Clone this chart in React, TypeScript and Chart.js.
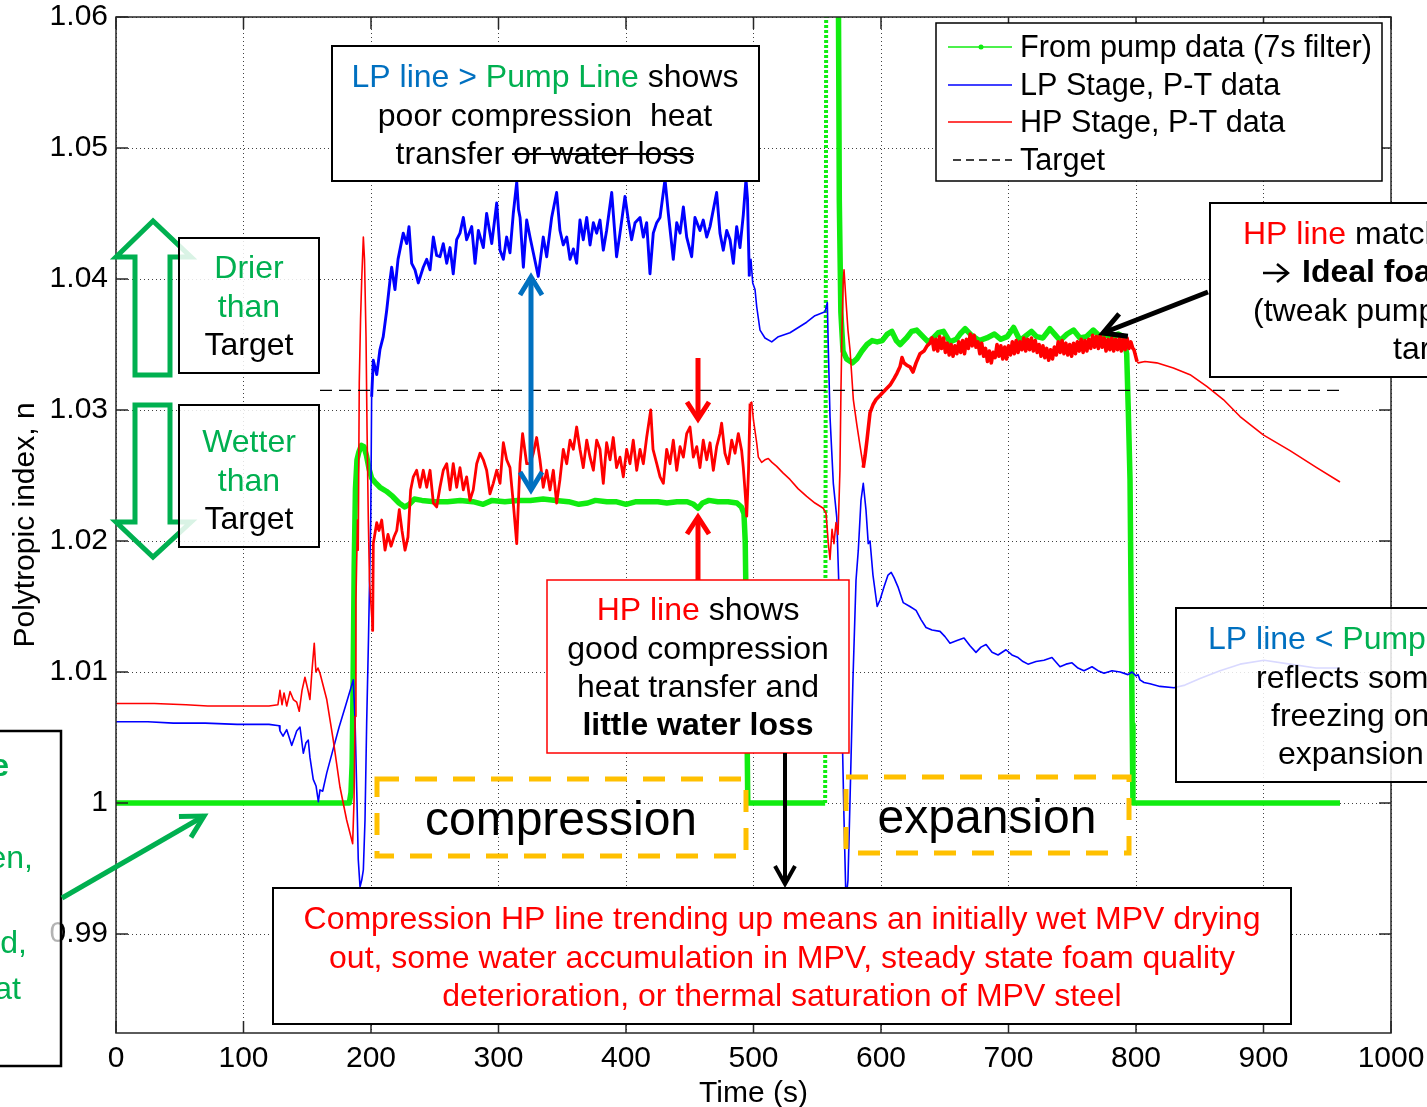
import React, { useEffect, useRef } from 'react';
import { Chart, registerables } from 'chart.js';

Chart.register(...registerables);

const W = 1427;
const H = 1107;
const FONT = '"Liberation Sans", Arial, Helvetica, sans-serif';

// ---------------- data ----------------
const timeTicks = [0, 100, 200, 300, 400, 500, 600, 700, 800, 900, 1000];
const nTicks = [0.99, 1.0, 1.01, 1.02, 1.03, 1.04, 1.05, 1.06];
const seriesLabels = ['From pump data (7s filter)', 'LP Stage, P-T data', 'HP Stage, P-T data', 'Target'];

const targetN = 1.0315;
const targetSpan = [160, 960];

const pumpData: [number, number][] = [
  [0, 1.0], [183, 1.0], [184.3, 1.0008], [185.2, 1.003], [186, 1.0095], [186.8, 1.018], [187.8, 1.024],
  [189, 1.0262], [190.5, 1.0268], [192.5, 1.0273], [194.5, 1.0272], [196.5, 1.0265], [198.5, 1.0255],
  [200.5, 1.0248], [203, 1.0245], [207, 1.0241], [212, 1.0238], [217, 1.0234], [222, 1.0229], [226.5, 1.0226],
  [230, 1.0228], [234, 1.0232], [240, 1.0231], [250, 1.023], [260, 1.023], [270, 1.0231], [280, 1.023],
  [288, 1.0228], [295, 1.0231], [305, 1.023], [315, 1.0231], [325, 1.0231], [335, 1.0232], [345, 1.0231],
  [355, 1.023], [363, 1.0228], [370, 1.0229], [376, 1.0231], [385, 1.023], [392, 1.023], [400, 1.0228],
  [408, 1.023], [415, 1.023], [425, 1.023], [432, 1.0229], [440, 1.023], [448, 1.023], [453, 1.0228],
  [456.5, 1.0225], [460, 1.0229], [465, 1.0231], [472, 1.023], [480, 1.023], [487, 1.0229], [490.5, 1.0226],
  [492.5, 1.0221], [493.5, 1.02], [494.2, 1.015], [494.8, 1.007], [495.5, 1.0], [556.2, 1.0], [557.2, 1.075],
  [566, 1.075], [567.3, 1.046], [568.5, 1.0375], [570.2, 1.0345], [573, 1.0339], [577.5, 1.0336], [581, 1.0339],
  [585, 1.0345], [589, 1.035], [593, 1.0353], [597, 1.0352], [601, 1.0353], [605, 1.0358], [608.5, 1.036],
  [612, 1.0353], [615, 1.035], [620, 1.0355], [624, 1.036], [628, 1.0361], [632, 1.0357], [637, 1.0352],
  [641, 1.0355], [645, 1.0359], [649, 1.036], [654, 1.0352], [659, 1.0354], [662, 1.0358], [666, 1.0362],
  [671, 1.0357], [677, 1.0353], [683, 1.0355], [689, 1.0358], [694, 1.0354], [699, 1.0356], [704, 1.0363],
  [709, 1.0353], [714, 1.0357], [718, 1.036], [722, 1.0356], [727, 1.0355], [732.5, 1.0362], [737, 1.0357],
  [740.5, 1.0353], [746, 1.0358], [751, 1.0361], [756, 1.0355], [761, 1.0356], [766.5, 1.0361], [772, 1.0356],
  [777, 1.0357], [782, 1.0355], [786, 1.0358], [790, 1.0356], [792.7, 1.0343], [794, 1.0298], [795.3, 1.0247],
  [796.2, 1.015], [797, 1.006], [797.6, 1.0], [960, 1.0],
];

const lpStage: [number, number][] = [
  [0, 1.0062], [25, 1.0062], [45, 1.0061], [70, 1.0061], [95, 1.006], [120, 1.006], [128, 1.0059],
  [128.6, 1.0055], [131, 1.0051], [133.9, 1.0056], [137.8, 1.0044], [140, 1.005], [141.7, 1.0055], [144.3, 1.0058],
  [146.9, 1.0038], [149, 1.0046], [150.8, 1.0048], [152.1, 1.0035], [154.7, 1.0018], [156.9, 1.0013],
  [158.7, 1.0001], [160, 1.001], [162.1, 1.0009], [165.3, 1.0023], [170, 1.004], [175, 1.0058], [180, 1.0074],
  [186.1, 1.0094], [187.5, 1.0063], [189, 1.0002], [190, 0.9957], [191.4, 0.9936], [192.7, 0.9941], [194, 0.9949],
  [195.3, 0.9987], [196.6, 1.0061], [198, 1.0124], [199.2, 1.0186], [199.8, 1.0216], [200.5, 1.031], [201.8, 1.0338],
  [204.5, 1.0327], [207, 1.0346], [209.6, 1.0356], [212.3, 1.0376], [214.9, 1.0399], [216.2, 1.0409],
  [218.8, 1.0392], [221.2, 1.0415], [225.3, 1.0435], [228, 1.0427], [229.8, 1.044], [231.9, 1.0412],
  [234.5, 1.0407], [237.1, 1.0397], [241, 1.0409], [243.7, 1.0415], [246.3, 1.0407], [248.9, 1.0432],
  [251.5, 1.0418], [254.1, 1.0417], [256.7, 1.0427], [259.4, 1.0412], [262, 1.0424], [264.5, 1.0404],
  [267.2, 1.043], [269.8, 1.0435], [272.4, 1.0447], [275, 1.043], [279, 1.044], [281.6, 1.0412], [284.2, 1.0437],
  [288.1, 1.0424], [290.7, 1.045], [294.7, 1.0427], [298.6, 1.0458], [301.2, 1.0422], [303.8, 1.0415],
  [306.4, 1.0432], [309, 1.042], [311.6, 1.045], [314.3, 1.0474], [315.7, 1.0453], [316.9, 1.0447],
  [319.5, 1.0409], [322.1, 1.0445], [324.7, 1.0432], [327.3, 1.042], [331.2, 1.0402], [335.1, 1.0432],
  [337.8, 1.0417], [341.7, 1.0447], [345.6, 1.0466], [348.2, 1.0437], [350.8, 1.0426], [353.5, 1.0432],
  [356.1, 1.0415], [358.7, 1.0423], [361.3, 1.0412], [363.9, 1.0445], [366.5, 1.043], [369.2, 1.0447],
  [371.8, 1.0426], [374.4, 1.0443], [377, 1.0435], [379.6, 1.0445], [382.2, 1.0422], [384.8, 1.0437],
  [388.8, 1.0466], [392.6, 1.0417], [395.3, 1.0435], [399.2, 1.0463], [401.8, 1.0445], [404.4, 1.043],
  [407.1, 1.0443], [411, 1.0447], [413.6, 1.0432], [416.2, 1.0443], [418.8, 1.0404], [421.4, 1.0435],
  [424.1, 1.0443], [426.7, 1.0447], [430.6, 1.0476], [433.2, 1.045], [437.1, 1.0415], [439.8, 1.0443],
  [442.4, 1.0435], [445, 1.0455], [447.6, 1.0432], [451.5, 1.0417], [454.1, 1.0447], [458, 1.0437],
  [460.6, 1.0445], [463.3, 1.0432], [465.9, 1.044], [471.1, 1.0466], [473.7, 1.0435], [476.3, 1.0422],
  [479, 1.0437], [481.6, 1.043], [484.2, 1.0412], [486.8, 1.044], [489.4, 1.0424], [492, 1.0449], [494.1, 1.0476],
  [495.3, 1.0461], [496.7, 1.0402], [498, 1.0415], [499.4, 1.0397], [501.2, 1.0392], [502.5, 1.0379],
  [505.1, 1.0361], [509, 1.0355], [514.3, 1.0352], [519.5, 1.0356], [528.6, 1.0359], [541.7, 1.0367],
  [548.2, 1.0372], [556.1, 1.0375], [557.9, 1.0382], [558.7, 1.0346], [560, 1.0295], [562.6, 1.0244],
  [565.3, 1.0218], [566.3, 1.0186], [567.8, 1.014], [569.4, 1.0063], [571, 0.9987], [572.5, 0.9926],
  [574.1, 0.9941], [575.7, 1.0002], [578, 1.0094], [580.4, 1.017], [582.2, 1.0193], [584.3, 1.0231],
  [586.1, 1.0244], [588.2, 1.0224], [590, 1.0198], [591.4, 1.02], [593.7, 1.0174], [597, 1.015], [599.2, 1.0155],
  [602.4, 1.0165], [605.5, 1.0174], [608, 1.0176], [610.2, 1.0172], [613.3, 1.0165], [617.4, 1.0153],
  [622.7, 1.015], [627.5, 1.0147], [631.4, 1.014], [635.3, 1.0134], [640, 1.0132], [646.3, 1.0131],
  [650.2, 1.0127], [654.1, 1.0122], [659.6, 1.0124], [665.1, 1.0126], [669.8, 1.012], [674.5, 1.0115],
  [678.4, 1.0119], [682.4, 1.0121], [687.1, 1.0115], [691.8, 1.0113], [698, 1.0117], [702.7, 1.0113],
  [707.5, 1.0111], [711.4, 1.0108], [715.3, 1.0106], [721.6, 1.0108], [727.8, 1.0109], [734.1, 1.0111],
  [740.4, 1.0104], [745.1, 1.0106], [749.8, 1.0107], [754.5, 1.0103], [759.2, 1.0101], [765.5, 1.0104],
  [770.2, 1.0101], [774.9, 1.0099], [781.2, 1.0101], [787.5, 1.01], [793.7, 1.0098], [796.9, 1.01], [800, 1.0097],
  [801.6, 1.0098], [803.1, 1.0094], [806.3, 1.0092], [811, 1.0091], [818.8, 1.0089], [829.8, 1.0088],
  [838.4, 1.009], [850.2, 1.0095], [865.9, 1.0101], [881.6, 1.0106], [900.4, 1.0109], [920.8, 1.0106],
  [941.2, 1.0103], [960, 1.0103],
];

const hpStage: [number, number][] = [
  [0, 1.0076], [30, 1.0076], [55, 1.0075], [72, 1.0074], [100, 1.0074], [120, 1.0074], [127, 1.0075],
  [128.6, 1.0086], [130.2, 1.0075], [131.8, 1.0084], [133.9, 1.0074], [136.5, 1.0085], [139.1, 1.0079],
  [141.7, 1.0077], [143.7, 1.007], [145.9, 1.0086], [148.2, 1.0096], [150.6, 1.0086], [152.1, 1.0079],
  [153.7, 1.0101], [155.5, 1.0122], [156.8, 1.01], [158.4, 1.0103], [160, 1.0099], [165.3, 1.0079],
  [170.4, 1.0048], [175.7, 1.0012], [180.9, 0.9987], [185.6, 0.9969], [186.7, 1.0002], [187.5, 1.0066],
  [188.2, 1.0155], [189.4, 1.0216], [190, 1.0193], [190.8, 1.0321], [191.8, 1.0369], [192.7, 1.0399],
  [194, 1.0432], [194.9, 1.0415], [196.1, 1.0356], [196.9, 1.0285], [197.9, 1.0216], [198.8, 1.017],
  [200, 1.0151], [201.3, 1.0131], [201.8, 1.0198], [204.5, 1.0214], [206.3, 1.0208], [208.4, 1.0216],
  [211, 1.0193], [213.3, 1.0205], [215.7, 1.0196], [218, 1.0203], [220.2, 1.0208], [222.2, 1.0224],
  [224.3, 1.0208], [226.7, 1.0193], [229, 1.0203], [231.1, 1.0239], [233.2, 1.0249], [235.8, 1.0254],
  [238.4, 1.0241], [241, 1.0254], [243.7, 1.0241], [246.3, 1.0254], [248.9, 1.0229], [251.5, 1.0226],
  [254.1, 1.0241], [256.7, 1.0254], [259.4, 1.0259], [262, 1.0239], [264.5, 1.0259], [267.2, 1.0241],
  [269.8, 1.0256], [272.4, 1.0239], [275, 1.0249], [277.6, 1.0231], [280.2, 1.0239], [282.9, 1.0259],
  [285.5, 1.0267], [288.1, 1.0262], [290.7, 1.0254], [293.3, 1.0236], [295.9, 1.0244], [298.6, 1.0254],
  [301.2, 1.0244], [303.8, 1.0275], [306.4, 1.0262], [309, 1.0256], [311.6, 1.0229], [314.3, 1.0198],
  [316, 1.0239], [316.9, 1.0259], [318.9, 1.0282], [322.1, 1.0259], [324.7, 1.0259], [327.3, 1.0267],
  [329.9, 1.0279], [332.5, 1.0262], [335.1, 1.0241], [337.8, 1.0254], [340.4, 1.0239], [343, 1.0254],
  [345.6, 1.0229], [348.2, 1.0247], [350.8, 1.027], [353.5, 1.0259], [356.1, 1.0277], [358.7, 1.027],
  [361.3, 1.0287], [363.9, 1.027], [366.5, 1.0256], [369.2, 1.0277], [371.8, 1.0264], [374.4, 1.0254],
  [377, 1.0277], [379.6, 1.027], [382.2, 1.0244], [384.8, 1.0275], [387.5, 1.0262], [390, 1.0279],
  [392.6, 1.0256], [395.3, 1.0264], [397.9, 1.0249], [400.5, 1.027], [403.1, 1.0259], [405.7, 1.0277],
  [408.4, 1.0254], [411, 1.027], [413.6, 1.0259], [416.2, 1.0279], [419.4, 1.03], [421.2, 1.027],
  [424.1, 1.0259], [426.7, 1.0249], [429.3, 1.0244], [431.9, 1.027], [434.5, 1.0259], [437.1, 1.0277],
  [439.8, 1.0254], [442.4, 1.0272], [445, 1.0264], [447.6, 1.0282], [450.2, 1.0287], [452.8, 1.0264],
  [455.5, 1.0272], [458, 1.0256], [460.6, 1.0277], [463.3, 1.0262], [465.9, 1.0275], [468.5, 1.0254],
  [471.1, 1.0272], [473.7, 1.0282], [475, 1.029], [477.6, 1.0267], [480.2, 1.0259], [482.9, 1.0277],
  [485.5, 1.0267], [488.1, 1.0282], [490.7, 1.0269], [492, 1.0256], [493.3, 1.0239], [494.7, 1.0219],
  [496.1, 1.0254], [497.3, 1.0305], [498.6, 1.0306], [500, 1.0292], [502.5, 1.0275], [503.8, 1.0264],
  [506.4, 1.026], [509, 1.0262], [511.6, 1.0263], [514.5, 1.026], [518.2, 1.0257], [523.1, 1.0252],
  [528.6, 1.0247], [534.9, 1.024], [541.7, 1.0234], [548.2, 1.0229], [554.7, 1.0225], [556.9, 1.0221],
  [558.7, 1.0198], [560, 1.0186], [561.6, 1.0209], [563.1, 1.0198], [564.7, 1.0214], [566.3, 1.0205],
  [567.8, 1.0254], [568.6, 1.0315], [569.4, 1.0361], [570.4, 1.0399], [571, 1.0407], [572.5, 1.0384],
  [574.1, 1.0361], [575.7, 1.0346], [578.3, 1.0308], [581, 1.0289], [583.5, 1.0273], [585.1, 1.0263],
  [586.1, 1.0256], [587.5, 1.0265], [589, 1.0277], [591.4, 1.0298], [593.7, 1.0304], [596.1, 1.0308],
  [599.2, 1.0311], [603.1, 1.0315], [607.1, 1.0319], [610.2, 1.0324], [612.5, 1.0328], [614.9, 1.0333],
  [616.5, 1.034], [618, 1.0336], [620.4, 1.0334], [622.7, 1.0333], [625.1, 1.0329], [627.5, 1.0336],
  [630.6, 1.0343], [633.7, 1.0345], [636.1, 1.0349], [638.4, 1.0351],
  [640, 1.0355], [641.5, 1.0346], [643, 1.0354], [644.5, 1.0345], [646, 1.0356], [647.5, 1.0347], [649, 1.0355],
  [650.5, 1.0344], [652, 1.0351], [653.5, 1.0342], [655, 1.035], [656.5, 1.0341], [658, 1.0349], [659.5, 1.0343],
  [661, 1.0352], [662.5, 1.0344], [664, 1.0353], [665.5, 1.0343], [667, 1.0354], [668.5, 1.0347], [670, 1.0358],
  [671.5, 1.0349], [673, 1.0357], [674.5, 1.0348], [676, 1.0352], [677.5, 1.0343], [679, 1.0351], [680.5, 1.0341],
  [682, 1.0347], [683.5, 1.0337], [685, 1.0345], [686.5, 1.0336], [688, 1.0344], [689.5, 1.034], [691, 1.035],
  [692.5, 1.0341], [694, 1.0349], [695.5, 1.0339], [697, 1.0348], [698.5, 1.0339], [700, 1.0349], [701.5, 1.0342],
  [703, 1.0352], [704.5, 1.0343], [706, 1.0353], [707.5, 1.0344], [709, 1.0352], [710.5, 1.0346], [712, 1.0355],
  [713.5, 1.0345], [715, 1.0354], [716.5, 1.0346], [718, 1.0355], [719.5, 1.0345], [721, 1.0353], [722.5, 1.0344],
  [724, 1.035], [725.5, 1.0341], [727, 1.0349], [728.5, 1.034], [730, 1.0347], [731.5, 1.0338], [733, 1.0346],
  [734.5, 1.0339], [736, 1.0348], [737.5, 1.0342], [739, 1.0352], [740.5, 1.0344], [742, 1.0353], [743.5, 1.0343],
  [745, 1.0351], [746.5, 1.0342], [748, 1.035], [749.5, 1.0341], [751, 1.0351], [752.5, 1.0343], [754, 1.0352],
  [755.5, 1.0345], [757, 1.0354], [758.5, 1.0344], [760, 1.0353], [761.5, 1.0345], [763, 1.0354], [764.5, 1.0347],
  [766, 1.0357], [767.5, 1.0348], [769, 1.0356], [770.5, 1.0347], [772, 1.0357], [773.5, 1.0348], [775, 1.0355],
  [776.5, 1.0345], [778, 1.0354], [779.5, 1.0346], [781, 1.0355], [782.5, 1.0345], [784, 1.0354], [785.5, 1.0346],
  [787, 1.0355], [788.5, 1.0345], [790, 1.0354], [791.5, 1.0346], [793, 1.0355], [794.5, 1.0347], [796, 1.0352],
  [797.5, 1.0347], [798.4, 1.0346], [799.2, 1.0343], [800.8, 1.0337], [801.8, 1.0336], [807, 1.0337],
  [816.2, 1.0336], [829.3, 1.0332], [842.4, 1.0327], [855.5, 1.0318], [868.5, 1.0308], [881.6, 1.0295],
  [899.8, 1.0281], [920.8, 1.0269], [941.7, 1.0256], [960, 1.0245],
];

// ---------------- styles ----------------
const C_PUMP = 'rgb(16,236,16)';
const C_LP = '#0000ff';
const C_HP = '#ff0000';
const A_BLUE = '#0070C0';
const A_GREEN = '#00B050';
const A_RED = '#FF0000';
const A_ORANGE = '#FFC000';
const BLACK = '#000000';
const TEXT_DY = 2;

const font = (size: number, bold = false) => `${bold ? 'bold ' : ''}${size}px ${FONT}`;

type Part = { t: string; c: string; b?: boolean };

function rich(ctx: CanvasRenderingContext2D, parts: Part[], x: number, y: number, size: number, align: 'center' | 'left' | 'right' = 'center') {
  let total = 0;
  const ws = parts.map((p) => {
    ctx.font = font(size, p.b);
    const w = ctx.measureText(p.t).width;
    total += w;
    return w;
  });
  let cx = align === 'center' ? x - total / 2 : align === 'right' ? x - total : x;
  ctx.textBaseline = 'middle';
  ctx.textAlign = 'left';
  parts.forEach((p, i) => {
    ctx.font = font(size, p.b);
    ctx.fillStyle = p.c;
    ctx.fillText(p.t, cx, y + TEXT_DY);
    cx += ws[i];
  });
}

function box(ctx: CanvasRenderingContext2D, x1: number, y1: number, x2: number, y2: number, stroke: string, lw: number, fill = '#ffffff') {
  ctx.fillStyle = fill;
  ctx.fillRect(x1, y1, x2 - x1, y2 - y1);
  ctx.strokeStyle = stroke;
  ctx.lineWidth = lw;
  ctx.setLineDash([]);
  ctx.strokeRect(x1, y1, x2 - x1, y2 - y1);
}

function arrow(ctx: CanvasRenderingContext2D, x1: number, y1: number, x2: number, y2: number, color: string, lw: number, head: number, half: number, both = false) {
  ctx.strokeStyle = color;
  ctx.lineWidth = lw;
  ctx.setLineDash([]);
  ctx.lineCap = 'butt';
  ctx.lineJoin = 'miter';
  ctx.beginPath();
  ctx.moveTo(x1, y1);
  ctx.lineTo(x2, y2);
  ctx.stroke();
  const headAt = (tx: number, ty: number, fx: number, fy: number) => {
    const dx = fx - tx;
    const dy = fy - ty;
    const L = Math.hypot(dx, dy);
    const ux = dx / L;
    const uy = dy / L;
    const px = -uy;
    const py = ux;
    ctx.beginPath();
    ctx.moveTo(tx + ux * head + px * half, ty + uy * head + py * half);
    ctx.lineTo(tx, ty);
    ctx.lineTo(tx + ux * head - px * half, ty + uy * head - py * half);
    ctx.stroke();
  };
  headAt(x2, y2, x1, y1);
  if (both) headAt(x1, y1, x2, y2);
}

function poly(ctx: CanvasRenderingContext2D, pts: number[][], color: string, lw: number) {
  ctx.strokeStyle = color;
  ctx.lineWidth = lw;
  ctx.lineJoin = 'miter';
  ctx.setLineDash([]);
  ctx.beginPath();
  pts.forEach(([x, y], i) => (i ? ctx.lineTo(x, y) : ctx.moveTo(x, y)));
  ctx.closePath();
  ctx.stroke();
}

const framePlugin = {
  id: 'frame',
  afterDatasetsDraw(chart: any) {
    const { ctx, chartArea: a, scales } = chart;
    ctx.save();
    ctx.strokeStyle = '#262626';
    ctx.lineWidth = 1.5;
    ctx.setLineDash([]);
    ctx.strokeRect(a.left, a.top, a.right - a.left, a.bottom - a.top);
    ctx.beginPath();
    for (const v of nTicks) {
      const y = scales.y.getPixelForValue(v);
      ctx.moveTo(a.left, y);
      ctx.lineTo(a.left + 12, y);
      ctx.moveTo(a.right, y);
      ctx.lineTo(a.right - 12, y);
    }
    for (const t of timeTicks) {
      const x = scales.x.getPixelForValue(t);
      ctx.moveTo(x, a.bottom);
      ctx.lineTo(x, a.bottom - 12);
      ctx.moveTo(x, a.top);
      ctx.lineTo(x, a.top + 12);
    }
    ctx.stroke();
    ctx.restore();
  },
};

const annotationPlugin = {
  id: 'annotations',
  afterDraw(chart: any) {
    const ctx: CanvasRenderingContext2D = chart.ctx;
    const ds = chart.data.datasets;
    ctx.save();

    // ---- legend ----
    box(ctx, 936, 23, 1382, 181, BLACK, 1.5);
    const rows = [47, 85, 122, 160];
    rows.forEach((ry, i) => {
      const d = ds[i];
      ctx.strokeStyle = d.borderColor;
      ctx.lineWidth = 1.5;
      ctx.setLineDash(i === 3 ? [8, 5] : []);
      ctx.beginPath();
      ctx.moveTo(i === 3 ? 953 : 948, ry);
      ctx.lineTo(1012, ry);
      ctx.stroke();
      ctx.setLineDash([]);
      if (i === 0) {
        ctx.fillStyle = d.borderColor;
        ctx.beginPath();
        ctx.arc(981, ry, 2.5, 0, Math.PI * 2);
        ctx.fill();
      }
      rich(ctx, [{ t: d.label, c: BLACK }], 1020, ry, 30.6, 'left');
    });

    // ---- LP > Pump box ----
    box(ctx, 332, 46, 759, 181, BLACK, 2);
    rich(ctx, [{ t: 'LP line > ', c: A_BLUE }, { t: 'Pump Line', c: A_GREEN }, { t: ' shows', c: BLACK }], 545, 76, 32);
    rich(ctx, [{ t: 'poor compression  heat', c: BLACK }], 545, 115, 32);
    rich(ctx, [{ t: 'transfer or water loss', c: BLACK }], 545, 153, 32);
    ctx.strokeStyle = BLACK;
    ctx.lineWidth = 2;
    ctx.beginPath();
    ctx.moveTo(512, 154);
    ctx.lineTo(694, 154);
    ctx.stroke();

    // ---- Drier / Wetter ----
    poly(ctx, [[153, 221], [116, 257], [135, 257], [135, 375], [170, 375], [170, 257], [191, 257]], A_GREEN, 5);
    box(ctx, 179, 238, 319, 373, BLACK, 2, 'rgba(255,255,255,0.85)');
    rich(ctx, [{ t: 'Drier', c: A_GREEN }], 249, 267, 32);
    rich(ctx, [{ t: 'than', c: A_GREEN }], 249, 306, 32);
    rich(ctx, [{ t: 'Target', c: BLACK }], 249, 344, 32);

    poly(ctx, [[135, 405], [170, 405], [170, 522], [191, 522], [153, 557], [116, 522], [135, 522]], A_GREEN, 5);
    box(ctx, 179, 405, 319, 547, BLACK, 2, 'rgba(255,255,255,0.85)');
    rich(ctx, [{ t: 'Wetter', c: A_GREEN }], 249, 441, 32);
    rich(ctx, [{ t: 'than', c: A_GREEN }], 249, 480, 32);
    rich(ctx, [{ t: 'Target', c: BLACK }], 249, 518, 32);

    // ---- blue double arrow ----
    arrow(ctx, 531, 277, 531, 490, A_BLUE, 5, 18, 11, true);

    // ---- red arrows ----
    arrow(ctx, 698, 358, 698, 419, A_RED, 5, 17, 11);
    arrow(ctx, 698, 580, 698, 517, A_RED, 5, 17, 11);

    // ---- HP shows box ----
    box(ctx, 547, 580, 849, 753, A_RED, 1.5);
    rich(ctx, [{ t: 'HP line', c: A_RED }, { t: ' shows', c: BLACK }], 698, 609, 32);
    rich(ctx, [{ t: 'good compression', c: BLACK }], 698, 648, 32);
    rich(ctx, [{ t: 'heat transfer and', c: BLACK }], 698, 686, 32);
    rich(ctx, [{ t: 'little water loss', c: BLACK, b: true }], 698, 724, 32);

    // ---- black down arrow ----
    arrow(ctx, 785, 753, 785, 884, BLACK, 4, 18, 10);

    // ---- compression / expansion dashed boxes ----
    ctx.strokeStyle = A_ORANGE;
    ctx.lineWidth = 5;
    ctx.setLineDash([22, 16]);
    ctx.strokeRect(377, 779, 746 - 377, 856 - 779);
    ctx.strokeRect(846, 777, 1129 - 846, 853 - 777);
    ctx.setLineDash([]);
    rich(ctx, [{ t: 'compression', c: BLACK }], 561, 820, 48);
    rich(ctx, [{ t: 'expansion', c: BLACK }], 987, 818, 48);

    // ---- bottom box ----
    box(ctx, 273, 888, 1291, 1024, BLACK, 2);
    rich(ctx, [{ t: 'Compression HP line trending up means an initially wet MPV drying', c: A_RED }], 782, 918, 32);
    rich(ctx, [{ t: 'out, some water accumulation in MPV, steady state foam quality', c: A_RED }], 782, 957, 32);
    rich(ctx, [{ t: 'deterioration, or thermal saturation of MPV steel', c: A_RED }], 782, 995, 32);

    // ---- right top box ----
    arrow(ctx, 1208, 292, 1103, 333, BLACK, 5, 22, 12);
    box(ctx, 1210, 203, 1445, 377, BLACK, 2);
    rich(ctx, [{ t: 'HP line', c: A_RED }, { t: ' matches', c: BLACK }], 1243, 233, 32, 'left');
    arrow(ctx, 1263, 273, 1288, 273, BLACK, 2.5, 11, 9);
    rich(ctx, [{ t: 'Ideal foam', c: BLACK, b: true }], 1302, 271, 32, 'left');
    rich(ctx, [{ t: '(tweak pump', c: BLACK }], 1253, 310, 32, 'left');
    rich(ctx, [{ t: 'target)', c: BLACK }], 1393, 348, 32, 'left');

    // ---- right bottom box ----
    box(ctx, 1176, 608, 1445, 782, BLACK, 2, 'rgba(255,255,255,0.85)');
    rich(ctx, [{ t: 'LP line < ', c: A_BLUE }, { t: 'Pump line', c: A_GREEN }], 1208, 638, 32, 'left');
    rich(ctx, [{ t: 'reflects some', c: BLACK }], 1256, 677, 32, 'left');
    rich(ctx, [{ t: 'freezing on', c: BLACK }], 1271, 715, 32, 'left');
    rich(ctx, [{ t: 'expansion', c: BLACK }], 1278, 753, 32, 'left');

    // ---- left box ----
    box(ctx, -10, 731, 61, 1066, BLACK, 2.5, 'rgba(255,255,255,0.7)');
    rich(ctx, [{ t: 'Pump line', c: A_GREEN, b: true }], 9, 765, 32, 'right');
    rich(ctx, [{ t: 'open,', c: A_GREEN }], 33, 857, 32, 'right');
    rich(ctx, [{ t: 'filled,', c: A_GREEN }], 27, 942, 32, 'right');
    rich(ctx, [{ t: 'flat', c: A_GREEN }], 21, 988, 32, 'right');
    arrow(ctx, 62, 898, 204, 816, A_GREEN, 5, 22, 12);

    ctx.restore();
  },
};

export default function App() {
  const ref = useRef<HTMLCanvasElement>(null);

  useEffect(() => {
    if (!ref.current) return;
    const toXY = (arr: [number, number][]) => arr.map(([x, y]) => ({ x, y }));
    const riseIdx = pumpData.findIndex(([, v], i) => v === 1.0 && i + 1 < pumpData.length && pumpData[i + 1][1] > 1.06);
    const inRange = (c: any, a: number, b: number) => c.p0.parsed.x >= a && c.p0.parsed.x < b;

    const chart = new Chart(ref.current, {
      type: 'line',
      data: {
        datasets: [
          {
            label: seriesLabels[0],
            data: toXY(pumpData),
            borderColor: C_PUMP,
            borderWidth: 5.5,
            pointRadius: 0,
            order: 3,
            segment: {
              borderDash: (c: any) => (c.p0DataIndex === riseIdx ? [3, 2] : undefined),
              borderWidth: (c: any) => (c.p0DataIndex === riseIdx ? 4 : undefined),
            },
          } as any,
          {
            label: seriesLabels[1],
            data: toXY(lpStage),
            borderColor: C_LP,
            borderWidth: 1.6,
            pointRadius: 0,
            order: 2,
            segment: { borderWidth: (c: any) => (inRange(c, 200, 496) ? 2.9 : undefined) },
          } as any,
          {
            label: seriesLabels[2],
            data: toXY(hpStage),
            borderColor: C_HP,
            borderWidth: 1.6,
            pointRadius: 0,
            order: 1,
            segment: {
              borderWidth: (c: any) => (inRange(c, 201, 497) ? 2.8 : inRange(c, 586, 800) ? 3.6 : undefined),
            },
          } as any,
          {
            label: seriesLabels[3],
            data: [{ x: targetSpan[0], y: targetN }, { x: targetSpan[1], y: targetN }],
            borderColor: BLACK,
            borderWidth: 1.3,
            borderDash: [12, 7],
            pointRadius: 0,
            order: 0,
          },
        ],
      },
      options: {
        responsive: false,
        animation: false,
        devicePixelRatio: 1,
        events: [],
        layout: { padding: { top: 17, right: 36, left: 0, bottom: 0 } },
        elements: { line: { borderJoinStyle: 'round', tension: 0 } },
        plugins: { legend: { display: false }, tooltip: { enabled: false } },
        scales: {
          x: {
            type: 'linear',
            min: 0,
            max: 1000,
            afterBuildTicks: (s: any) => { s.ticks = timeTicks.map((v) => ({ value: v })); },
            afterFit: (s: any) => { s.height = 74; s.paddingLeft = 0; s.paddingRight = 0; },
            ticks: { autoSkip: false, maxRotation: 0, padding: 8, color: BLACK, font: { family: FONT, size: 30 }, callback: (v: any) => String(v) },
            grid: { color: 'rgba(0,0,0,0.75)', lineWidth: 1, drawTicks: false },
            border: { display: false, dash: [1, 3] },
            title: { display: true, text: 'Time (s)', color: BLACK, font: { family: FONT, size: 30, lineHeight: 0.9 }, padding: { top: 0, bottom: 0 } },
          },
          y: {
            type: 'linear',
            min: 0.982443,
            max: 1.06,
            afterBuildTicks: (s: any) => { s.ticks = nTicks.map((v) => ({ value: v })); },
            afterFit: (s: any) => { s.width = 116; s.paddingTop = 0; s.paddingBottom = 0; },
            ticks: {
              autoSkip: false,
              padding: 8,
              color: BLACK,
              font: { family: FONT, size: 30 },
              callback: (v: any) => (Math.abs(Number(v) - 1) < 1e-9 ? '1' : Number(v).toFixed(2)),
            },
            grid: { color: 'rgba(0,0,0,0.75)', lineWidth: 1, drawTicks: false },
            border: { display: false, dash: [1, 3] },
            title: { display: true, text: 'Polytropic index, n', color: BLACK, font: { family: FONT, size: 30, lineHeight: 1 }, padding: { top: 11, bottom: 0 } },
          },
        },
      } as any,
      plugins: [framePlugin, annotationPlugin],
    });
    return () => chart.destroy();
  }, []);

  return (
    <div style={{ position: 'absolute', left: 0, top: 0, width: W, height: H, background: '#fff', overflow: 'hidden' }}>
      <canvas ref={ref} width={W} height={H} style={{ width: W, height: H, display: 'block' }} />
    </div>
  );
}
